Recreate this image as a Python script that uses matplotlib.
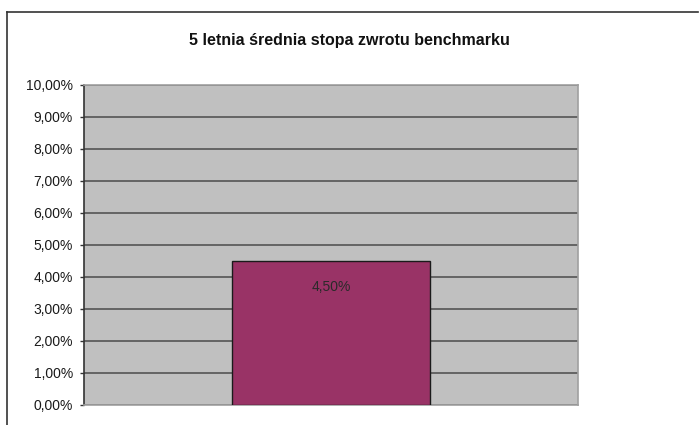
import matplotlib.pyplot as plt
from matplotlib.lines import Line2D
from matplotlib.ticker import FuncFormatter

plt.rcParams['font.family'] = ['Liberation Sans', 'DejaVu Sans']

# dane
kategorie = ["benchmark"]
wartosci = [4.50]          # w procentach
tytul = "5 letnia średnia stopa zwrotu benchmarku"
y_ticki = [0, 1, 2, 3, 4, 5, 6, 7, 8, 9, 10]


def pl_procent(v, pos=None):
    return f"{v:.2f}%".replace(".", ",")


fig = plt.figure(figsize=(6.99, 4.25), dpi=100)
ax = fig.add_axes([84 / 699, 20 / 425, 494 / 699, 320 / 425])

ax.set_facecolor("#c0c0c0")
ax.bar(range(len(kategorie)), wartosci, width=0.4, color="#993366",
       edgecolor="#1a1a1a", linewidth=1.0, zorder=3)

for i, v in enumerate(wartosci):
    ax.text(i, v - 0.8, pl_procent(v), ha="center", va="center",
            fontsize=10, color="#2a2a2a", zorder=4)

ax.set_xlim(-0.5, 0.5)
ax.set_ylim(0, 10)
ax.set_yticks(y_ticki)
ax.yaxis.set_major_formatter(FuncFormatter(pl_procent))
ax.set_xticks([])
ax.grid(axis="y", color="#555555", linewidth=1.2, zorder=1)

ax.tick_params(axis="y", length=3, width=1, color="#333333", pad=5,
               labelsize=10, labelcolor="#1a1a1a")
ax.spines["left"].set_color("#333333")
ax.spines["left"].set_linewidth(1.2)
for s in ["right", "top", "bottom"]:
    ax.spines[s].set_color("#a0a0a0")
    ax.spines[s].set_linewidth(1.2)

fig.text(0.5, 1 - 41 / 425, tytul, ha="center", va="center",
         fontsize=11.5, fontweight="bold", color="#111111")

# ramka wykresu (lewa i gorna krawedz)
fig.add_artist(Line2D([7 / 699, 7 / 699], [0, 1 - 12 / 425],
                      transform=fig.transFigure, color="#333333", linewidth=1.2))
fig.add_artist(Line2D([7 / 699, 698 / 699], [1 - 12 / 425, 1 - 12 / 425],
                      transform=fig.transFigure, color="#333333", linewidth=1.2))

fig.savefig("out.png", dpi=100)
